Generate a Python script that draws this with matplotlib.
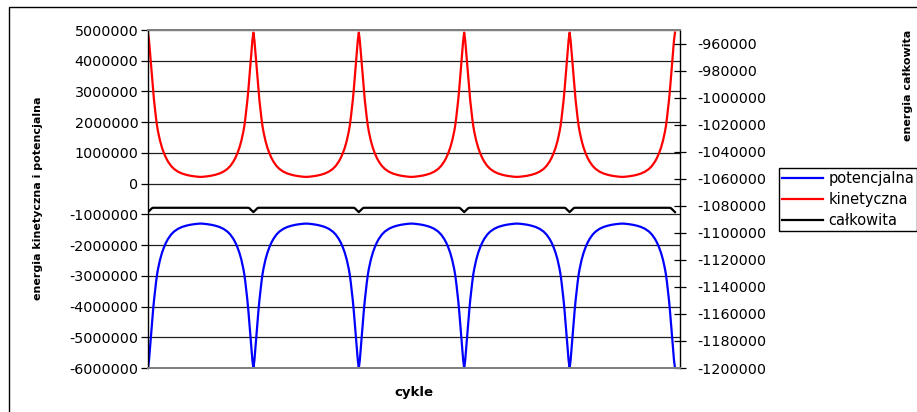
import numpy as np
import matplotlib.pyplot as plt
from matplotlib.patches import Rectangle

# one orbit, offset from the kinetic-energy peak (fraction of a cycle)
phase_half = [0, 0.0095, 0.019, 0.0285, 0.038, 0.0474, 0.0569, 0.0664, 0.0759,
              0.0854, 0.0949, 0.1139, 0.1328, 0.1518, 0.1708, 0.1898, 0.2182,
              0.2467, 0.2846, 0.3226, 0.3605, 0.3985, 0.4364, 0.4744, 0.5]
kin_half = [4915000, 4666000, 4267000, 3868000, 3468000, 3069000, 2719000, 2419000,
            2139000, 1889000, 1699000, 1399000, 1169000, 989000, 839000, 719000,
            579000, 479000, 389000, 329000, 289000, 259000, 239000, 224000, 219000]
pot_half = [-6000000, -5750000, -5350000, -4950000, -4550000, -4150000, -3800000,
            -3500000, -3220000, -2970000, -2780000, -2480000, -2250000, -2070000,
            -1920000, -1800000, -1660000, -1560000, -1470000, -1410000, -1370000,
            -1340000, -1320000, -1305000, -1300000]
tot_half = [-1084700, -1084000, -1083200, -1082500, -1081800, -1081500, -1081500,
            -1081500, -1081500, -1081500, -1081500, -1081500, -1081500, -1081500,
            -1081500, -1081500, -1081500, -1081500, -1081500, -1081500, -1081500,
            -1081500, -1081500, -1081500, -1081500]
n_cycles = 5

left_ticks = [5000000, 4000000, 3000000, 2000000, 1000000, 0, -1000000, -2000000,
              -3000000, -4000000, -5000000, -6000000]
right_ticks = [-960000, -980000, -1000000, -1020000, -1040000, -1060000, -1080000,
               -1100000, -1120000, -1140000, -1160000, -1180000, -1200000]


def one_cycle(v):
    v = np.asarray(v, dtype=float)
    return np.concatenate([v, v[-2:0:-1]])


ph = np.asarray(phase_half)
cyc_x = np.concatenate([ph, 1 - ph[-2:0:-1]])
x = np.concatenate([cyc_x + k for k in range(n_cycles)] + [[n_cycles]])


def series(v):
    c = one_cycle(v)
    return np.concatenate([c] * n_cycles + [[v[0]]])


kin = series(kin_half)
pot = series(pot_half)
tot = series(tot_half)

W, H = 917, 412
fig = plt.figure(figsize=(W / 100, H / 100), dpi=100)
plt.rcParams['font.family'] = 'DejaVu Sans'

ax = fig.add_axes([148 / W, 1 - 368 / H, (680 - 148) / W, (368 - 30) / H])
ax2 = ax.twinx()

lp, = ax.plot(x, pot, color='#0000FF', lw=1.6, label='potencjalna')
lk, = ax.plot(x, kin, color='#FF0000', lw=1.6, label='kinetyczna')
lt, = ax2.plot(x, tot, color='black', lw=1.6, label='całkowita')

ax.set_xlim(0, n_cycles * 532 / 527)
ax.set_ylim(-6000000, 5000000)
ax2.set_ylim(-1200000, -950000)

ax.set_yticks(left_ticks)
ax.set_yticklabels([str(t) for t in left_ticks], fontsize=10.3)
ax2.set_yticks(right_ticks)
ax2.set_yticklabels([str(t) for t in right_ticks], fontsize=10.3)
ax.set_xticks([])

ax.grid(axis='y', color='#202020', lw=0.9)
ax.set_axisbelow(True)
ax.tick_params(axis='y', direction='out', length=5, width=0.9, pad=2)
ax2.tick_params(axis='y', direction='inout', length=9, width=0.9, pad=8)

for a in (ax, ax2):
    a.spines['top'].set_color('#808080')
    a.spines['bottom'].set_color('#808080')
    a.spines['top'].set_linewidth(1.4)
    a.spines['bottom'].set_linewidth(1.4)
ax.spines['right'].set_visible(False)
ax2.spines['left'].set_visible(False)
ax.spines['left'].set_linewidth(1.0)
ax2.spines['right'].set_linewidth(1.0)

ax.set_xlabel('cykle', fontsize=9.5, fontweight='bold', labelpad=13)
fig.text(38 / W, 1 - 198 / H, 'energia kinetyczna i potencjalna', rotation=90,
         fontsize=8, fontweight='bold', ha='center', va='center')
fig.text(908 / W, 1 - 85 / H, 'energia całkowita', rotation=90,
         fontsize=8, fontweight='bold', ha='center', va='center')

fig.legend([lp, lk, lt], ['potencjalna', 'kinetyczna', 'całkowita'],
           loc='upper left', bbox_to_anchor=(779 / W, 1 - 168 / H),
           bbox_transform=fig.transFigure, fontsize=10.5, frameon=True,
           fancybox=False, edgecolor='black', framealpha=1, borderaxespad=0,
           borderpad=0.22, handlelength=2.8, handletextpad=0.35, labelspacing=0.4)

fig.patches.append(Rectangle((9 / W, -0.1), 1.2, 1.1 - 7 / H, transform=fig.transFigure,
                             fill=False, edgecolor='black', lw=1.0))

fig.savefig('out.png', dpi=100)
